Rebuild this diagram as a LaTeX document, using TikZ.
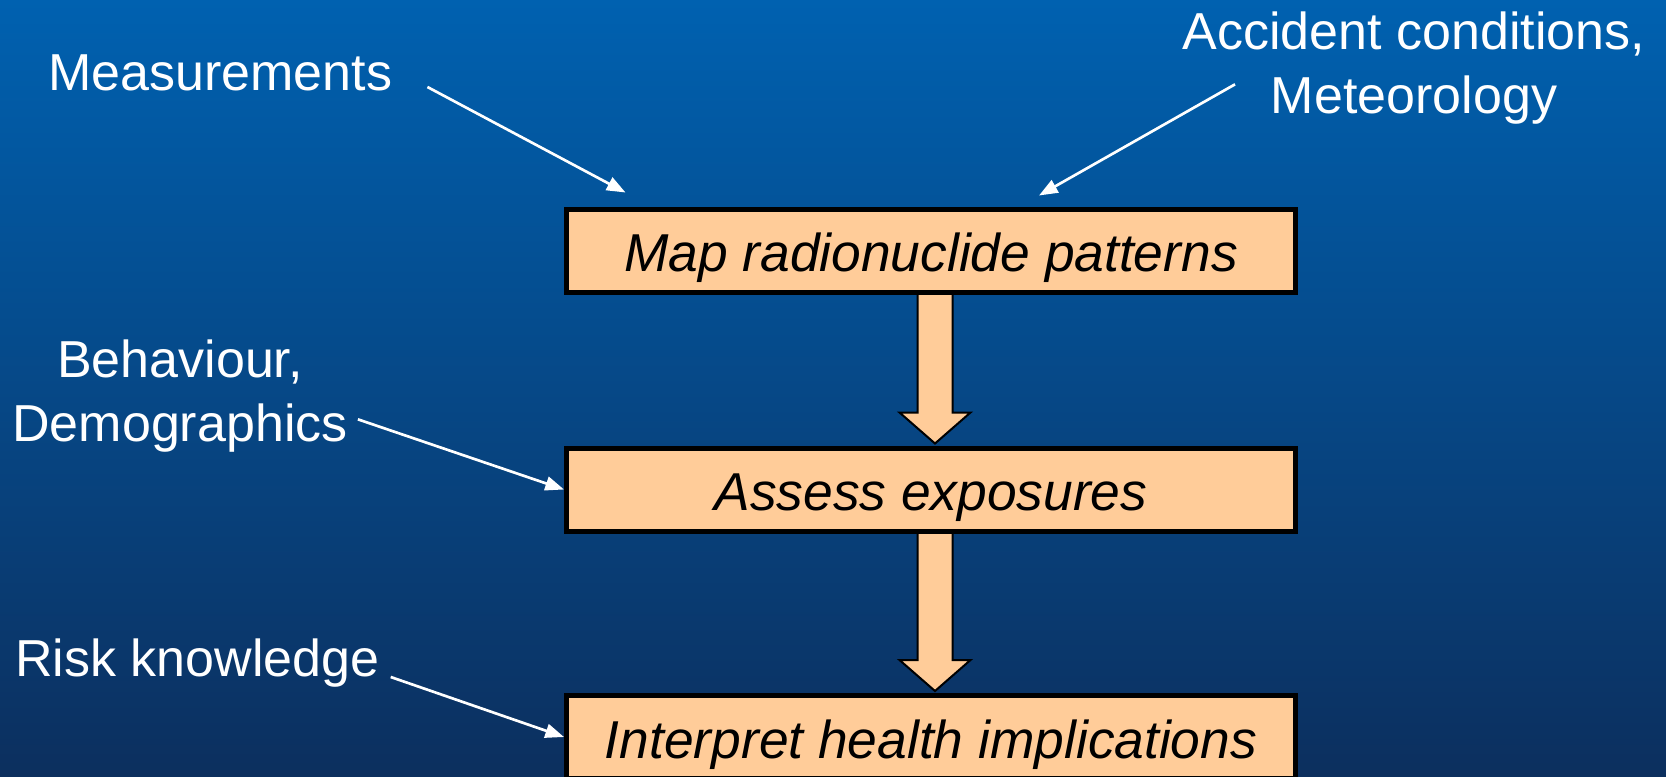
\documentclass[tikz,border=0pt]{standalone}
\usepackage{fontspec}
\setmainfont{Liberation Sans}
\usetikzlibrary{calc,arrows.meta}
\definecolor{bgtop}{RGB}{0,97,176}
\definecolor{bgmid}{RGB}{14,79,150}
\definecolor{bgbot}{RGB}{12,47,94}
\definecolor{peach}{RGB}{255,204,153}
\pgfdeclarelayer{bg}
\pgfdeclarelayer{mid}
\pgfsetlayers{bg,mid,main}
\tikzset{
  lbl/.style={text=white, inner sep=0pt, font=\fontsize{39}{47.5}\selectfont, align=center},
  stepbox/.style={draw=black, line width=3.75pt, fill=peach, inner sep=0pt,
    minimum width=546.75pt, minimum height=62.25pt,
    font=\fontsize{40}{48}\selectfont\itshape, text height=31.5pt, text depth=0pt},
  thin/.style={draw=white, line width=2pt, -{Triangle[length=14pt,width=10.5pt]}},
  blockarrow/.style={draw=black, line width=1.5pt, fill=peach, line join=miter}
}
\begin{document}
\begin{tikzpicture}[x=0.75pt,y=-0.75pt]
\useasboundingbox (0,0) rectangle (1666,777);
\begin{pgfonlayer}{bg}
\shade[top color=bgtop, middle color=bgmid, bottom color=bgbot] (0,0) rectangle (1666,777);
\end{pgfonlayer}

% boxes
\node[stepbox] (b1) at (931,251) {Map radionuclide patterns};
\node[stepbox] (b2) at (931,489.5) {Assess exposures};
\node[stepbox] (b3) at (931,737) {Interpret health implications};

% labels
\node[lbl, anchor=base west] (meas) at (48,91) {Measurements};
\node[lbl, anchor=north] (acc) at (1414,12) {Accident conditions,\\Meteorology};
\node[lbl, anchor=north] (beh) at (180,340) {Behaviour,\\Demographics};
\node[lbl, anchor=base west] (risk) at (15,676) {Risk knowledge};

% connector end points
\coordinate (m0) at ($(meas.base east)+(35,-4)$);
\coordinate (m1) at ($(b1.north west)+(61.5,-14.5)$);
\coordinate (a0) at ($(acc.south)+(-179,-40)$);
\coordinate (a1) at ($(b1.north)+(108,-11.5)$);
\coordinate (d0) at ($(beh.south east)+(10,-33)$);
\coordinate (r0) at ($(risk.base east)+(11,1)$);

\draw[thin] (m0) -- (m1);
\draw[thin] (a0) -- (a1);
\draw[thin] (d0) -- (b2.west);
\draw[thin] (r0) -- (b3.west);

% block arrows
\coordinate (s1) at ($(b1.south)+(4,0)$);
\coordinate (e1) at ($(b2.north)+(4,-2)$);
\coordinate (s2) at ($(b2.south)+(4,0)$);
\coordinate (e2) at ($(b3.north)+(4,-2)$);
\begin{pgfonlayer}{mid}
\draw[blockarrow] ($(s1)+(-17.5,0)$) -- ($(e1)+(-17.5,-31)$) -- ($(e1)+(-35.5,-31)$) -- (e1)
  -- ($(e1)+(35.5,-31)$) -- ($(e1)+(17.5,-31)$) -- ($(s1)+(17.5,0)$);
\draw[blockarrow] ($(s2)+(-17.5,0)$) -- ($(e2)+(-17.5,-31)$) -- ($(e2)+(-35.5,-31)$) -- (e2)
  -- ($(e2)+(35.5,-31)$) -- ($(e2)+(17.5,-31)$) -- ($(s2)+(17.5,0)$);
\end{pgfonlayer}
\end{tikzpicture}
\end{document}
